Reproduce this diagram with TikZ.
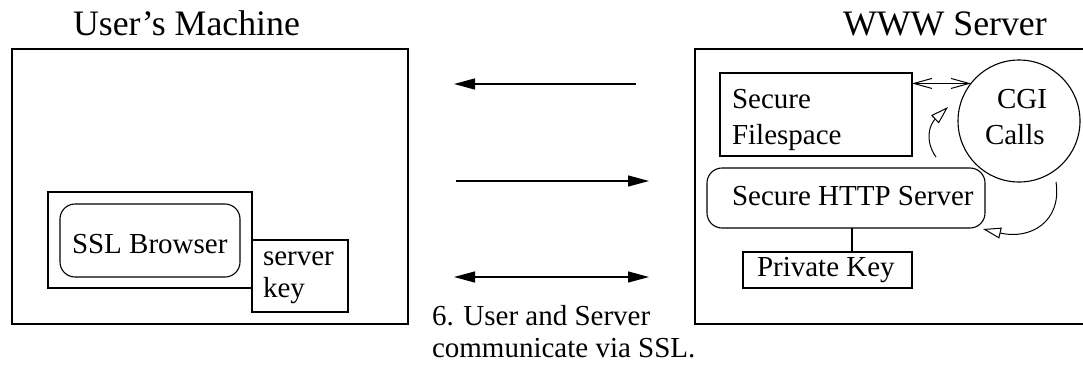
\documentclass[tikz,border=0pt]{standalone}
\usepackage{fontspec}
\setmainfont{Liberation Serif}
\usetikzlibrary{arrows.meta}
\newcommand{\bodyfont}{\fontsize{29}{32}\selectfont}
\newcommand{\titlefont}{\fontsize{35.8}{40}\selectfont}
\tikzset{
  box/.style={draw, line width=1.1pt, inner sep=0pt, outer sep=0pt},
  rbox/.style={box, rounded corners=15pt},
  lbl/.style={anchor=base west, inner sep=0pt, outer sep=0pt, font=\bodyfont},
  ttl/.style={anchor=base west, inner sep=0pt, outer sep=0pt, font=\titlefont},
  bigarrow/.style={line width=1.3pt, -{Triangle[length=21pt,width=11pt]}},
  bigdouble/.style={line width=1.3pt, {Triangle[length=21pt,width=11pt]}-{Triangle[length=21pt,width=11pt]}},
  barbdouble/.style={line width=1pt, {Straight Barb[length=18pt,width=10pt]}-{Straight Barb[length=18pt,width=10pt]}},
  openarrow/.style={line width=1pt, -{Triangle[open,length=18pt,width=11pt]}},
}
\begin{document}
\begin{tikzpicture}[x=1pt,y=-1pt]
\useasboundingbox (0,0) rectangle (1083,367);
\clip (0,0) rectangle (1083,367);
% titles
\node[ttl] (t1) at (73,35) {User’s Machine};
\node[ttl] (t2) at (843,35) {WWW Server};
% user's machine
\node[box, minimum width=396pt, minimum height=275pt] (user) at (210,186.5) {};
\node[box, minimum width=204pt, minimum height=96pt] (inner) at (150,240) {};
\node[rbox, minimum width=180pt, minimum height=73pt] (browser) at (150,240.5) {};
\node[lbl] (browsert) at (72,253) {SSL Browser};
\node[box, minimum width=96pt, minimum height=72pt] (skey) at (300,276) {};
\node[lbl] (skeyt1) at (263,265) {server};
\node[lbl] (skeyt2) at (263,297) {key};
% server
\node[box, minimum width=400pt, minimum height=275pt] (server) at (895,186.5) {};
\node[box, minimum width=192pt, minimum height=83pt] (files) at (816,114.5) {};
\node[lbl] (filest1) at (732,108) {Secure};
\node[lbl] (filest2) at (732,144) {Filespace};
\node[draw, line width=1.1pt, circle, minimum size=122pt, inner sep=0pt, outer sep=0pt] (cgi) at (1019,121) {};
\node[lbl] (cgit1) at (997,108) {CGI};
\node[lbl] (cgit2) at (985,144) {Calls};
\node[rbox, minimum width=278pt, minimum height=60pt] (http) at (846,198) {};
\node[lbl] (httpt) at (732,205) {Secure HTTP Server};
\node[box, minimum width=169pt, minimum height=36pt] (pkey) at (827.5,270) {};
\node[lbl] (pkeyt) at (757,276) {Private Key};
% caption
\node[lbl] (cap1) at (432,325) {6. User and Server};
\node[lbl] (cap2) at (432,357) {communicate via SSL.};
% connectors in server
\draw[barbdouble] (files.east |- cgi.142.7) -- (cgi.142.7);
\draw[line width=1.1pt] (http.south -| pkey.north) ++(24.5,0) coordinate (hp) -- (hp |- pkey.north);
\coordinate (c1s) at (936,157);
\coordinate (c1e) at (948,107);
\draw[openarrow] (c1s) .. controls (924,140) and (930,124) .. (c1e);
\coordinate (c2s) at (1056,182);
\coordinate (c2e) at (983,229);
\draw[openarrow] (c2s) .. controls (1062,222) and (1030,240) .. (c2e);
% middle arrows
\coordinate (a1s) at (636,84);
\coordinate (a1e) at (454,84);
\draw[bigarrow] (a1s) -- (a1e);
\coordinate (a2s) at (456,181);
\coordinate (a2e) at (649,181);
\draw[bigarrow] (a2s) -- (a2e);
\coordinate (a3s) at (454,277);
\coordinate (a3e) at (649,277);
\draw[bigdouble] (a3s) -- (a3e);
\end{tikzpicture}
\end{document}
